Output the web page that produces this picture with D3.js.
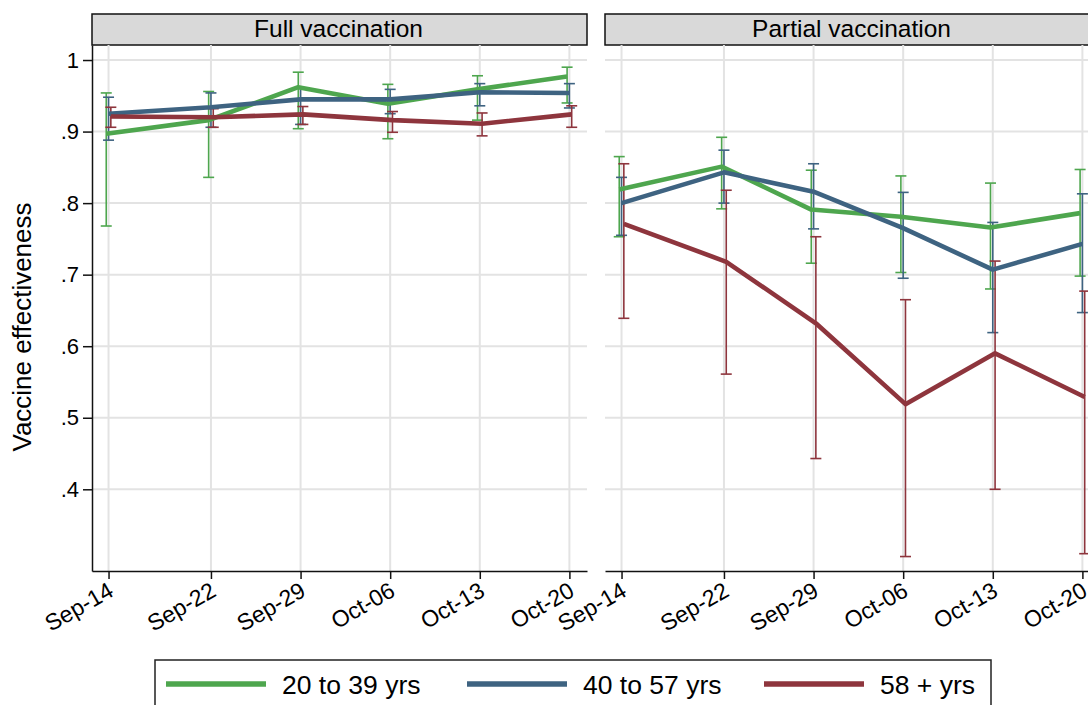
<!DOCTYPE html>
<html><head><meta charset="utf-8">
<script src="https://cdn.jsdelivr.net/npm/d3@7"></script>
<style>
body{margin:0;background:#fff}
svg{display:block}
text{font-family:"Liberation Sans", Arial, Helvetica, sans-serif;fill:#000}
</style>
</head><body>
<svg id="c" width="1088" height="705"></svg>
<script>
// ---------- data ----------
const dates = ["2021-09-14","2021-09-22","2021-09-29","2021-10-06","2021-10-13","2021-10-20"];
const xTickLabels = ["Sep-14","Sep-22","Sep-29","Oct-06","Oct-13","Oct-20"];
const yTicks = [1, .9, .8, .7, .6, .5, .4];
const yTickLabels = ["1", ".9", ".8", ".7", ".6", ".5", ".4"];
const panels = ["Full vaccination", "Partial vaccination"];
const groups = ["20 to 39 yrs", "40 to 57 yrs", "58 + yrs"];
const colors = ["#4ea64e", "#3e6381", "#8e353d"];

// Full vaccination
const full20   = [0.897, 0.916, 0.962, 0.939, 0.959, 0.977];
const full20Lo = [0.768, 0.836, 0.904, 0.890, 0.916, 0.940];
const full20Hi = [0.954, 0.956, 0.983, 0.966, 0.978, 0.990];
const full40   = [0.925, 0.934, 0.945, 0.945, 0.955, 0.954];
const full40Lo = [0.888, 0.906, 0.910, 0.925, 0.936, 0.933];
const full40Hi = [0.948, 0.954, 0.961, 0.959, 0.967, 0.967];
const full58   = [0.921, 0.920, 0.924, 0.916, 0.911, 0.924];
const full58Lo = [0.906, 0.906, 0.910, 0.899, 0.894, 0.906];
const full58Hi = [0.934, 0.932, 0.935, 0.928, 0.926, 0.936];

// Partial vaccination
const part20   = [0.819, 0.851, 0.791, 0.781, 0.766, 0.786];
const part20Lo = [0.753, 0.792, 0.716, 0.703, 0.680, 0.698];
const part20Hi = [0.865, 0.892, 0.846, 0.838, 0.828, 0.847];
const part40   = [0.800, 0.843, 0.816, 0.765, 0.707, 0.743];
const part40Lo = [0.755, 0.800, 0.764, 0.695, 0.619, 0.647];
const part40Hi = [0.836, 0.874, 0.855, 0.815, 0.773, 0.813];
const part58   = [0.771, 0.718, 0.632, 0.519, 0.590, 0.529];
const part58Lo = [0.639, 0.561, 0.443, 0.306, 0.400, 0.310];
const part58Hi = [0.855, 0.818, 0.753, 0.665, 0.719, 0.677];

const panelSeries = [
  [[full20, full20Lo, full20Hi], [full40, full40Lo, full40Hi], [full58, full58Lo, full58Hi]],
  [[part20, part20Lo, part20Hi], [part40, part40Lo, part40Hi], [part58, part58Lo, part58Hi]]
];

// ---------- layout ----------
const svg = d3.select("#c");
const parse = d3.timeParse("%Y-%m-%d");
const dateVals = dates.map(parse);
const panelX = [92, 605];
const panelW = 495;
const plotTop = 45, plotBot = 571, stripTop = 14;
const jitter = [-2.3, 0, 2.3];

const x = d3.scaleTime()
  .domain([d3.timeHour.offset(dateVals[0], -30.5), d3.timeHour.offset(dateVals[dateVals.length - 1], 33)])
  .range([0, panelW]);
const y = d3.scaleLinear().domain([0.2858, 1.021]).range([plotBot, plotTop]);

panels.forEach((title, p) => {
  const g = svg.append("g").attr("transform", `translate(${panelX[p]},0)`);

  // strip
  g.append("rect").attr("x", 0).attr("y", stripTop).attr("width", panelW).attr("height", plotTop - stripTop)
    .attr("fill", "#d9d9d9").attr("stroke", "#111").attr("stroke-width", 1.5);
  g.append("text").attr("x", panelW / 2 - 1).attr("y", 37).attr("text-anchor", "middle")
    .style("font-size", "24.5px").text(title);

  // grid
  g.append("g").selectAll("line").data(yTicks).join("line")
    .attr("x1", 0).attr("x2", panelW).attr("y1", d => y(d)).attr("y2", d => y(d))
    .attr("stroke", "#e3e3e3").attr("stroke-width", 2);
  g.append("g").selectAll("line").data(dateVals).join("line")
    .attr("x1", d => x(d)).attr("x2", d => x(d)).attr("y1", plotTop).attr("y2", plotBot)
    .attr("stroke", "#e3e3e3").attr("stroke-width", 2);

  // x axis
  const xa = g.append("g").attr("transform", `translate(0,${plotBot})`)
    .call(d3.axisBottom(x).tickValues(dateVals).tickFormat((d, i) => xTickLabels[i]).tickSize(8).tickSizeOuter(0));
  xa.attr("font-family", null).attr("font-size", null);
  xa.select(".domain").attr("stroke", "#111").attr("stroke-width", 1.5);
  xa.selectAll(".tick line").attr("stroke", "#111").attr("stroke-width", 1.5);
  xa.selectAll(".tick text").attr("x", 0).attr("y", 0).attr("dy", "0.35em")
    .attr("text-anchor", "end").attr("transform", "translate(2,17) rotate(-30)")
    .style("font-size", "23px").attr("fill", "#000");

  // y axis (left panel only)
  if (p === 0) {
    const ya = g.append("g")
      .call(d3.axisLeft(y).tickValues(yTicks).tickFormat((d, i) => yTickLabels[i]).tickSize(9).tickPadding(4).tickSizeOuter(0));
    ya.attr("font-family", null).attr("font-size", null);
    ya.select(".domain").attr("stroke", "#111").attr("stroke-width", 1.5);
    ya.selectAll(".tick line").attr("stroke", "#111").attr("stroke-width", 1.5);
    ya.selectAll(".tick text").style("font-size", "22px").attr("fill", "#000");
  }

  // error bars
  panelSeries[p].forEach(([est, lo, hi], s) => {
    const eg = g.append("g").attr("stroke", colors[s]).attr("stroke-width", 1.6).attr("fill", "none");
    dateVals.forEach((d, i) => {
      const cx = x(d) + jitter[s];
      eg.append("line").attr("x1", cx).attr("x2", cx).attr("y1", y(lo[i])).attr("y2", y(hi[i]));
      eg.append("line").attr("x1", cx - 5.5).attr("x2", cx + 5.5).attr("y1", y(lo[i])).attr("y2", y(lo[i]));
      eg.append("line").attr("x1", cx - 5.5).attr("x2", cx + 5.5).attr("y1", y(hi[i])).attr("y2", y(hi[i]));
    });
  });
  // lines
  panelSeries[p].forEach(([est], s) => {
    const line = d3.line().x((d, i) => x(dateVals[i]) + jitter[s]).y(d => y(d));
    g.append("path").datum(est).attr("d", line).attr("fill", "none")
      .attr("stroke", colors[s]).attr("stroke-width", 4.6).attr("stroke-linejoin", "round");
  });
});

// y axis title
svg.append("text").attr("transform", "translate(31,327) rotate(-90)").attr("text-anchor", "middle")
  .style("font-size", "26px").text("Vaccine effectiveness");

// legend
const lg = svg.append("g");
lg.append("rect").attr("x", 155).attr("y", 660).attr("width", 836).attr("height", 70)
  .attr("fill", "#fff").attr("stroke", "#222").attr("stroke-width", 1.5);
const legLineX = [166, 467, 764];
groups.forEach((name, s) => {
  lg.append("line").attr("x1", legLineX[s]).attr("x2", legLineX[s] + 100).attr("y1", 684).attr("y2", 684)
    .attr("stroke", colors[s]).attr("stroke-width", 5.5);
  lg.append("text").attr("x", legLineX[s] + 116).attr("y", 694).style("font-size", "26.5px").text(name);
});
</script>
</body></html>
